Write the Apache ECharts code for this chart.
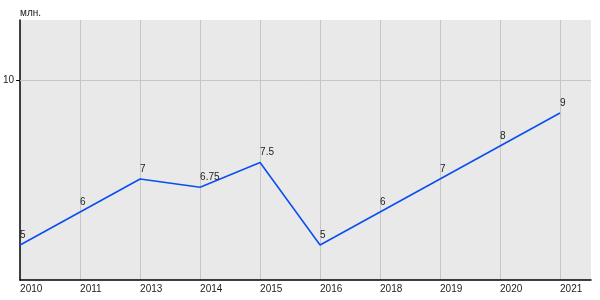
<!DOCTYPE html>
<html>
<head>
<meta charset="utf-8">
<script src="https://cdn.jsdelivr.net/npm/echarts@6/dist/echarts.min.js"></script>
<style>html,body{margin:0;padding:0;background:#fff}#c{width:600px;height:300px}</style>
</head>
<body>
<div id="c"></div>
<script>
var categories = ['2010','2011','2013','2014','2015','2016','2018','2019','2020','2021'];
var values = [5, 6, 7, 6.75, 7.5, 5, 6, 7, 8, 9];
var unitLabel = 'млн.';
var yTicks = [10];

var chart = echarts.init(document.getElementById('c'), null, {renderer: 'canvas'});
var font = '"Liberation Sans", Arial, sans-serif';
chart.setOption({
  animation: false,
  grid: {left: 20, right: 9, top: 20, bottom: 20, show: true, backgroundColor: '#e9e9e9', borderWidth: 0, containLabel: false},
  xAxis: {
    type: 'value', min: 0, max: 9.5167, interval: 1,
    axisLine: {show: true, lineStyle: {color: '#000', width: 1.5}},
    axisTick: {show: false},
    splitLine: {show: true, showMinLine: false, showMaxLine: false, lineStyle: {color: '#c6c6c6', width: 1}},
    axisLabel: {
      fontFamily: font, fontSize: 10, color: '#222', align: 'left', margin: 4,
      showMinLabel: true, showMaxLabel: false,
      formatter: function (v) { return Number.isInteger(v) && categories[v] !== undefined ? categories[v] : ''; }
    }
  },
  yAxis: {
    type: 'value', min: 3.9394, max: 11.8182,
    name: unitLabel, nameLocation: 'end', nameGap: 2,
    nameTextStyle: {fontFamily: font, fontSize: 10, color: '#222', align: 'left', verticalAlign: 'bottom', padding: [0, 0, 0, 0]},
    axisLine: {show: true, onZero: false, lineStyle: {color: '#000', width: 1.5}},
    axisTick: {show: true, length: 4, customValues: yTicks, lineStyle: {color: '#000'}},
    splitLine: {show: false},
    axisLabel: {
      fontFamily: font, fontSize: 10, color: '#222', margin: 6,
      customValues: yTicks,
      formatter: function (v) { return String(v); }
    }
  },
  series: [{
    type: 'line',
    data: values.map(function (v, i) { return [i, v]; }),
    showSymbol: true,
    symbol: 'circle',
    symbolSize: 2,
    itemStyle: {color: 'transparent', borderWidth: 0},
    lineStyle: {color: '#0a4ff0', width: 1.6},
    label: {
      show: true, position: 'top', align: 'left', distance: 4,
      fontFamily: font, fontSize: 10, color: '#222',
      formatter: function (p) { return String(p.value[1]); }
    },
    labelLayout: {hideOverlap: false},
    markLine: {
      silent: true, symbol: ['none', 'none'], animation: false,
      label: {show: false},
      lineStyle: {color: '#c6c6c6', width: 1, type: 'solid'},
      data: yTicks.map(function (t) { return {yAxis: t}; })
    },
    z: 3
  }]
});
</script>
</body>
</html>
